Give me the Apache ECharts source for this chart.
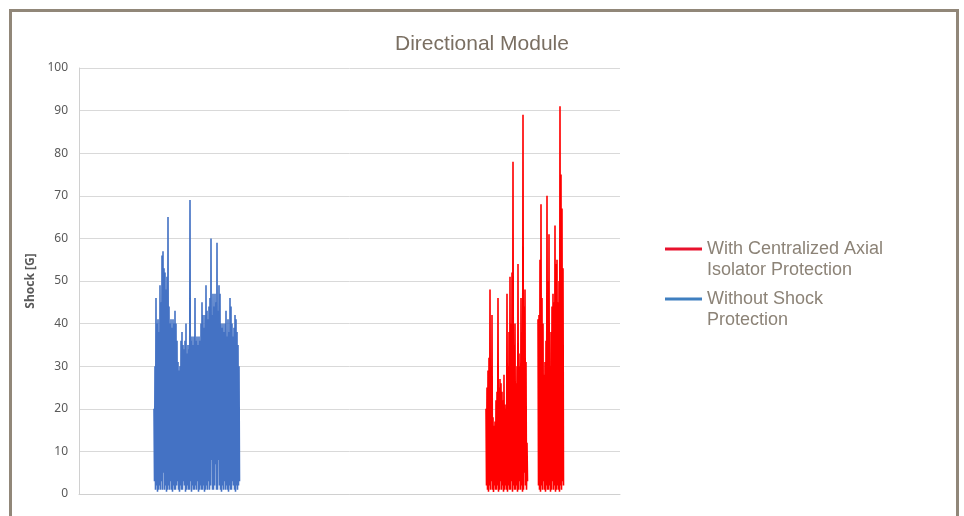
<!DOCTYPE html>
<html>
<head>
<meta charset="utf-8">
<script src="https://cdn.jsdelivr.net/npm/echarts@6/dist/echarts.min.js"></script>
<style>
html,body{margin:0;padding:0;background:#fff;}
#chart{width:964px;height:516px;}
</style>
</head>
<body>
<div id="chart"></div>
<script>
// ---- Data ----
var yTicks = [0, 10, 20, 30, 40, 50, 60, 70, 80, 90, 100];
var sampleCount = 541;

// Without Shock Protection: sample index of first value, peak/trough per sample
var blueStartIndex = 75;
var blueHigh = [
  20,30,46,40,41,38,49,45,56,57,
  53,52,48,51,65,44,40,41,39,41,
  40,43,40,36,31,29,30,36,38,35,
  34,36,40,33,35,34,69,36,37,35,
  37,46,36,37,35,37,36,40,45,42,
  39,42,49,43,41,44,46,60,42,47,
  44,47,45,59,43,49,47,40,39,40,
  38,40,43,37,41,38,46,44,40,37,
  39,42,41,38,35,30
];
var blueLow = [
  3,1,2,0.5,1,2,1,3,1,5,
  1,2,0.5,1,2,1,3,1,0.5,2,
  1,1,2,3,1,0.5,2,1,1,3,
  2,0.5,1,2,1,1,3,0.5,2,1,
  1,2,1,3,0.5,1,2,1,1,2,
  0.5,1,2,1,3,1,2,8,1,1,
  2,7,1,1,8,2,1,0.5,2,1,
  3,1,2,1,0.5,2,1,1,3,2,
  1,0.5,2,1,2,3
];

// With Centralized Axial Isolator Protection
var redStartIndex = 407;
var redHigh = [
  20,25,29,32,48,30,42,18,16,17,
  22,24,46,25,27,26,24,22,28,21,
  20,47,30,38,51,40,52,78,35,40,
  26,30,54,33,30,46,38,89,44,48,
  31,12,
  null,null,null,null,null,null,null,null,null,null,
  41,42,55,68,46,40,28,31,36,70,
  50,61,30,38,44,47,45,63,54,55,
  45,50,91,75,67,53
];
var redLow = [
  2,1,0.5,2,1,3,1,0.5,2,1,
  1,2,0.5,1,3,1,2,0.5,1,2,
  1,0.5,2,1,1,3,0.5,2,1,1,
  2,0.5,1,3,1,2,0.5,1,5,2,
  1,3,
  null,null,null,null,null,null,null,null,null,null,
  2,1,0.5,2,1,3,1,0.5,2,1,
  1,2,0.5,1,3,1,2,0.5,1,2,
  1,0.5,2,1,3,2
];

function buildSeries(start, high, low) {
  var out = [];
  for (var i = 0; i < high.length; i++) {
    out.push([start + i, high[i]]);
    out.push([start + i + 0.5, low[i]]);
  }
  return out;
}

var chart = echarts.init(document.getElementById('chart'), null, {renderer: 'canvas'});
var legendIcon = 'path://M0,0h0.01v0.01h-0.01z M0,8.5h37v3h-37z M0,41.99h0.01v0.01h-0.01z';

chart.setOption({
  animation: false,
  backgroundColor: '#ffffff',
  title: {
    text: 'Directional Module',
    left: 'center',
    top: 29,
    textStyle: {fontFamily: 'Liberation Sans', fontSize: 21, fontWeight: 'normal', color: '#7a6f62'}
  },
  graphic: [{
    type: 'rect',
    shape: {x: 10.5, y: 10.5, width: 947, height: 540},
    style: {fill: 'none', stroke: '#918779', lineWidth: 3},
    silent: true
  }],
  legend: {
    orient: 'vertical',
    left: 665,
    top: 239,
    padding: 0,
    itemWidth: 37,
    itemHeight: 42,
    itemGap: 8,
    icon: legendIcon,
    textStyle: {fontFamily: 'Liberation Sans', fontSize: 18, lineHeight: 21, color: '#8c8377'},
    data: [
      {name: 'With Centralized Axial\nIsolator Protection', itemStyle: {color: '#e8112d'}},
      {name: 'Without Shock\nProtection', itemStyle: {color: '#3f7fc0'}}
    ]
  },
  grid: {left: 79, right: 344, top: 68, bottom: 22, containLabel: false},
  xAxis: {
    type: 'value',
    min: 0,
    max: sampleCount,
    axisLine: {show: true, lineStyle: {color: '#d0d0d0', width: 1}},
    axisTick: {show: false},
    axisLabel: {show: false},
    splitLine: {show: false}
  },
  yAxis: {
    type: 'value',
    min: yTicks[0],
    max: yTicks[yTicks.length - 1],
    interval: 10,
    name: 'Shock [G]',
    nameLocation: 'middle',
    nameGap: 34,
    nameRotate: 90,
    nameTextStyle: {fontFamily: 'Noto Sans', fontSize: 12, fontWeight: 'bold', color: '#595959'},
    axisLine: {show: true, lineStyle: {color: '#d0d0d0'}},
    axisTick: {show: false},
    axisLabel: {margin: 11, fontFamily: 'Noto Sans', fontSize: 12, color: '#595959'},
    splitLine: {show: true, lineStyle: {color: '#d9d9d9', width: 1}}
  },
  series: [
    {
      name: 'With Centralized Axial\nIsolator Protection',
      type: 'line',
      data: buildSeries(redStartIndex, redHigh, redLow),
      showSymbol: false,
      symbol: 'none',
      sampling: null,
      connectNulls: false,
      itemStyle: {color: '#ff0000'},
      lineStyle: {color: '#ff0000', width: 1.6}
    },
    {
      name: 'Without Shock\nProtection',
      type: 'line',
      data: buildSeries(blueStartIndex, blueHigh, blueLow),
      showSymbol: false,
      symbol: 'none',
      sampling: null,
      itemStyle: {color: '#4472c4'},
      lineStyle: {color: '#4472c4', width: 1.6}
    }
  ]
});
</script>
</body>
</html>
